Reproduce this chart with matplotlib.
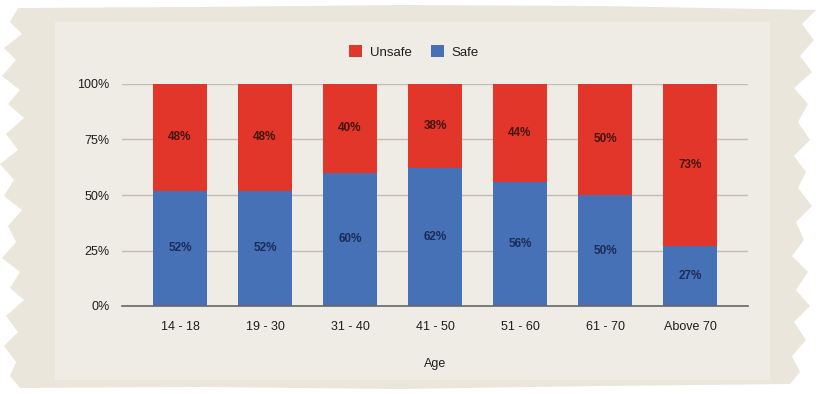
import matplotlib
matplotlib.use("Agg")
import matplotlib.pyplot as plt
from matplotlib.patches import Polygon, Rectangle
import numpy as np

ages = ["14 - 18", "19 - 30", "31 - 40", "41 - 50", "51 - 60", "61 - 70", "Above 70"]
safe = [52, 52, 60, 62, 56, 50, 27]
unsafe = [48, 48, 40, 38, 44, 50, 73]
yticks = [0, 25, 50, 75, 100]

RED = "#e2362b"
BLUE = "#4671b6"
PAPER = "#eae6dc"
PANEL = "#efece5"
FONT = ["Liberation Sans", "DejaVu Sans"]
plt.rcParams["font.family"] = FONT

W, H = 823, 394
fig = plt.figure(figsize=(W / 100, H / 100), dpi=100)
fig.patch.set_facecolor("white")

# torn-paper backdrop, in pixel coordinates of the figure
bg = fig.add_axes([0, 0, 1, 1])
bg.set_xlim(0, W)
bg.set_ylim(H, 0)
bg.axis("off")
left_edge = [(18, 8), (10, 22), (22, 34), (4, 48), (16, 60), (2, 76), (20, 90), (8, 104),
             (24, 118), (6, 134), (18, 150), (0, 164), (14, 180), (4, 196), (22, 210),
             (8, 226), (16, 242), (2, 258), (20, 272), (10, 288), (24, 300), (6, 316),
             (18, 332), (4, 346), (16, 362), (10, 376), (20, 388)]
bottom_edge = [(200, 387), (400, 389), (600, 386), (790, 384)]
right_edge = [(800, 372), (792, 356), (806, 340), (794, 322), (810, 306), (796, 290),
              (808, 272), (792, 256), (804, 240), (796, 222), (812, 206), (798, 188),
              (806, 172), (794, 156), (810, 140), (798, 122), (808, 104), (794, 88),
              (812, 72), (800, 56), (814, 40), (802, 24), (816, 10)]
top_edge = [(600, 6), (400, 5), (200, 7)]
paper = Polygon(left_edge + bottom_edge + right_edge + top_edge, closed=True,
                facecolor=PAPER, edgecolor="none")
bg.add_patch(paper)
bg.add_patch(Rectangle((55, 22), 715, 358, facecolor=PANEL, edgecolor="none"))

ax = fig.add_axes([122 / W, 1 - 306 / H, 626 / W, 222 / H])
ax.set_facecolor("none")
x = np.arange(len(ages))
bw = 0.635
ax.bar(x, safe, bw, color=BLUE, label="Safe", zorder=2)
ax.bar(x, unsafe, bw, bottom=safe, color=RED, label="Unsafe", zorder=2)

for xi, s, u in zip(x, safe, unsafe):
    ax.text(xi, s / 2, f"{s}%", ha="center", va="center", fontsize=8.5,
            color="#1b2c58", fontweight="bold", zorder=3)
    ax.text(xi, s + u / 2, f"{u}%", ha="center", va="center", fontsize=8.5,
            color="#45130e", fontweight="bold", zorder=3)

ax.set_xlim(-0.682, len(ages) - 1 + 0.682)
ax.set_ylim(0, 100)
ax.set_yticks(yticks)
ax.set_yticklabels([f"{t}%" for t in yticks])
ax.set_xticks(x)
ax.set_xticklabels(ages)
ax.tick_params(axis="both", length=0, labelsize=9, colors="#1e1e1e")
ax.tick_params(axis="y", pad=9)
ax.tick_params(axis="x", pad=11)
for t in yticks[1:]:
    ax.axhline(t, color="#c2beb6", lw=1, zorder=1)
for s in ["top", "right", "left"]:
    ax.spines[s].set_visible(False)
ax.spines["bottom"].set_color("#666666")
ax.spines["bottom"].set_linewidth(1.2)
ax.set_xlabel("Age", fontsize=9, color="#1e1e1e", labelpad=18)

handles, labels = ax.get_legend_handles_labels()
fig.legend(handles[::-1], labels[::-1], loc="center", bbox_to_anchor=(414 / W, 1 - 52 / H),
           ncol=2, frameon=False, fontsize=9.5, handlelength=1.0, handleheight=1.0,
           columnspacing=1.4, handletextpad=0.6, labelcolor="#1e1e1e")

fig.savefig("out.png", dpi=100, facecolor="white")
